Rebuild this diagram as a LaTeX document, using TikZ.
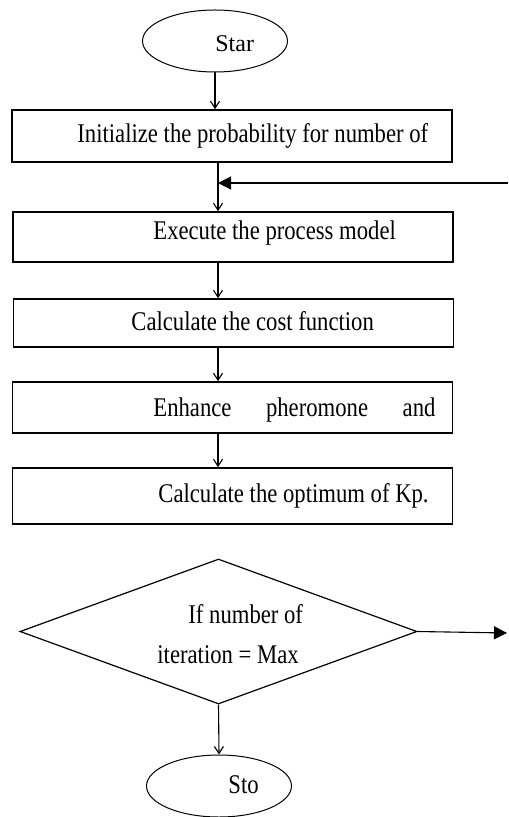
\documentclass[tikz,border=0pt]{standalone}
\usepackage{fontspec}
\setmainfont{Liberation Serif}[FakeStretch=0.84]
\newfontfamily\startext{Liberation Serif}
\usetikzlibrary{arrows.meta,shapes.geometric}

\begin{document}
\begin{tikzpicture}[
  x=0.5pt,y=-0.5pt,
  >={Straight Barb[length=3.5pt,width=4.5pt]},
  terminal/.style={ellipse,draw,line width=0.5pt,minimum width=72.5pt,
    minimum height=31pt,inner sep=0pt},
  procbox/.style={rectangle,draw,line width=0.8pt,minimum width=220pt,inner sep=0pt},
  decision/.style={diamond,draw,line width=0.6pt,minimum width=198.5pt,
    minimum height=72.5pt,inner sep=0pt},
  lbl/.style={inner sep=0pt,anchor=base west,font=\fontsize{13.5}{16}\selectfont},
  flow/.style={->,line width=0.55pt},
  jump/.style={-{Triangle[length=6.5pt,width=6.5pt]},line width=0.55pt}
]
  \useasboundingbox (0,0) rectangle (508,817);

  % shapes
  \node[terminal] (star) at (215,41) {};
  \node[procbox,minimum height=26pt] (init) at (232,136) {};
  \node[procbox,minimum height=25pt] (exec) at (233,237) {};
  \node[procbox,minimum height=24pt] (cost) at (233.5,323) {};
  \node[procbox,minimum height=25.5pt] (enh) at (232.5,407.5) {};
  \node[procbox,minimum height=28pt] (opt) at (232.5,496) {};
  \node[decision] (test) at (218.5,631.5) {};
  \node[terminal] (stop) at (219,786) {};

  % texts
  \node[inner sep=0pt,anchor=base west,font=\startext\fontsize{12}{14}\selectfont]
    (startxt) at (215,52) {Star};
  \node[lbl] (inittxt) at (77,143) {Initialize the probability for number of};
  \node[lbl] (exectxt) at (153,240) {Execute the process model};
  \node[lbl] (costtxt) at (131,331) {Calculate the cost function};
  \node[lbl] (enhtxt) at (153,416) {\makebox[141pt][s]{Enhance pheromone and}};
  \node[lbl] (opttxt) at (158,502) {Calculate the optimum of Kp.};
  \node[lbl] (testtxta) at (188,623) {If number of};
  \node[lbl] (testtxtb) at (157,663) {iteration = Max};
  \node[lbl] (stoptxt) at (228,793) {Sto};

  % connectors
  \coordinate (axis) at (218,0);
  \coordinate (loopin) at (508,183);
  \coordinate (exit) at (507,633);
  \draw[flow] (star.south) -- (star.south |- init.north);
  \draw[flow] (init.south -| axis) -- (exec.north -| axis);
  \draw[jump] (loopin) -- (loopin -| axis);
  \draw[flow] (exec.south -| axis) -- (cost.north -| axis);
  \draw[flow] (cost.south -| axis) -- (enh.north -| axis);
  \draw[flow] (enh.south -| axis) -- (opt.north -| axis);
  \draw[jump] (test.east) -- (exit);
  \draw[flow] (test.south) -- (stop.north);
\end{tikzpicture}
\end{document}
